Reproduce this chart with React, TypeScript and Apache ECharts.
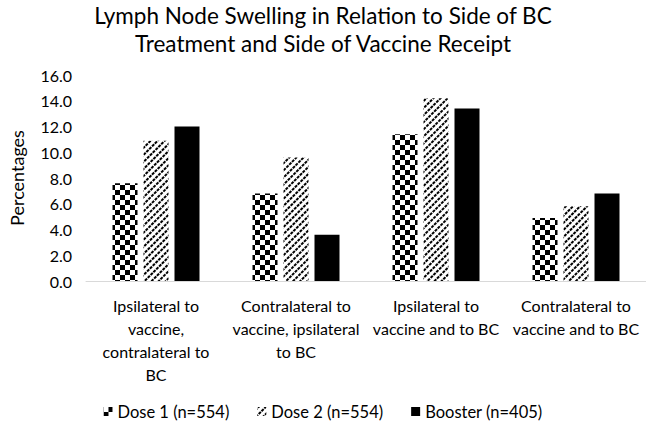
import React, { useEffect, useRef } from "react";
import * as echarts from "echarts";

const titleLines = [
  "Lymph Node Swelling in Relation to Side of BC",
  "Treatment and Side of Vaccine Receipt",
];
const categories = [
  "Ipsilateral to\nvaccine,\ncontralateral to\nBC",
  "Contralateral to\nvaccine, ipsilateral\nto BC",
  "Ipsilateral to\nvaccine and to BC",
  "Contralateral to\nvaccine and to BC",
];
const seriesNames = ["Dose 1 (n=554)", "Dose 2 (n=554)", "Booster (n=405)"];
const dose1 = [7.6, 6.8, 11.4, 4.9];
const dose2 = [10.9, 9.6, 14.2, 5.8];
const booster = [12.0, 3.6, 13.4, 6.8];
const yName = "Percentages";

const FONT = "Lato, 'Noto Sans', sans-serif";

export default function App() {
  const ref = useRef<HTMLDivElement>(null);
  useEffect(() => {
    document.body.style.margin = "0";
    const chart = echarts.init(ref.current!, null, { renderer: "svg" });
    const checker = {
      color: "#000",
      symbol: "rect",
      symbolSize: 1,
      dashArrayX: [
        [4.3, 4.3],
        [0, 4.3, 4.3, 0],
      ],
      dashArrayY: [4.3, 0],
      rotation: 0,
    };
    const diag = {
      color: "#000",
      symbol: "rect",
      symbolSize: 1,
      dashArrayX: [3, 1],
      dashArrayY: [1.8, 2.4],
      rotation: -Math.PI / 4,
    };
    chart.setOption({
      animation: false,
      aria: { enabled: false },
      title: {
        text: titleLines.join("\n"),
        left: "center",
        top: -4,
        textStyle: {
          fontFamily: FONT,
          fontSize: 22.5,
          fontWeight: "normal",
          color: "#000",
          lineHeight: 28,
        },
      },
      legend: {
        bottom: 2,
        left: "center",
        itemWidth: 9,
        itemHeight: 9,
        itemGap: 28,
        icon: "rect",
        textStyle: { fontFamily: FONT, fontSize: 16.5, color: "#000" },
        data: seriesNames,
      },
      grid: { left: 79, right: 0, top: 75, bottom: 146, containLabel: false },
      xAxis: {
        type: "category",
        data: categories,
        axisLine: { lineStyle: { color: "#d9d9d9", width: 1 } },
        axisTick: { show: false },
        axisLabel: {
          interval: 0,
          fontFamily: FONT,
          fontSize: 16,
          color: "#000",
          lineHeight: 23,
          margin: 13,
        },
      },
      yAxis: {
        type: "value",
        min: 0,
        max: 16,
        interval: 2,
        name: yName,
        nameLocation: "middle",
        nameGap: 60,
        nameTextStyle: { fontFamily: FONT, fontSize: 18, color: "#000" },
        axisLine: { show: false },
        axisTick: { show: false },
        splitLine: { show: false },
        axisLabel: {
          fontFamily: FONT,
          fontSize: 16,
          color: "#000",
          margin: 14,
          formatter: (v: number) => v.toFixed(1),
        },
      },
      series: [
        {
          name: seriesNames[0],
          type: "bar",
          data: dose1,
          barWidth: 25,
          barGap: "24%",
          itemStyle: { color: "#fff", decal: checker },
        },
        {
          name: seriesNames[1],
          type: "bar",
          data: dose2,
          barWidth: 25,
          barGap: "24%",
          itemStyle: { color: "#fff", decal: diag },
        },
        {
          name: seriesNames[2],
          type: "bar",
          data: booster,
          barWidth: 25,
          barGap: "24%",
          itemStyle: { color: "#000" },
        },
      ],
    });
    return () => chart.dispose();
  }, []);
  return <div ref={ref} style={{ width: 646, height: 427 }} />;
}
